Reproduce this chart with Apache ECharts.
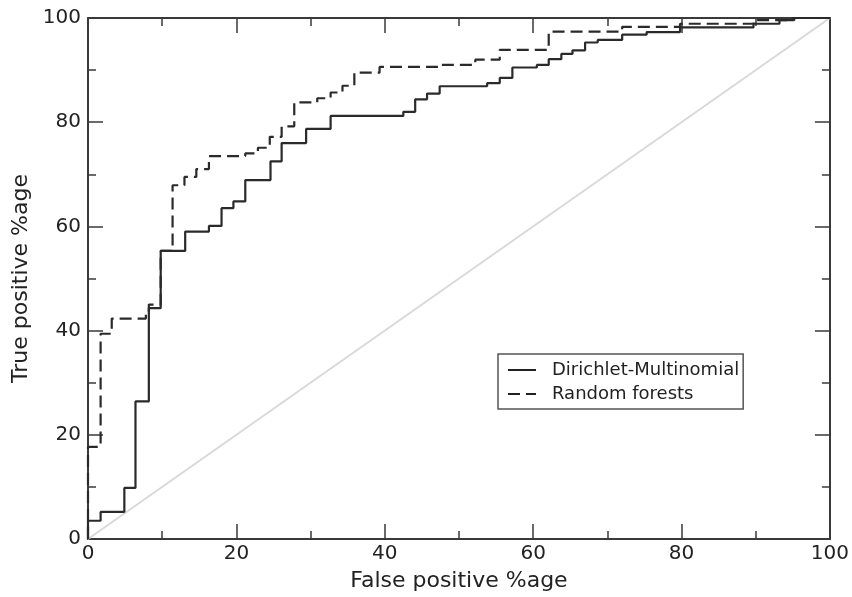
<!DOCTYPE html>
<html>
<head>
<meta charset="utf-8">
<script src="https://cdn.jsdelivr.net/npm/echarts@6/dist/echarts.min.js"></script>
<style>html,body{margin:0;padding:0;background:#fff}#c{width:852px;height:597px}</style>
</head>
<body>
<div id="c"></div>
<script>
const seriesNames = ['Dirichlet-Multinomial', 'Random forests'];
const xTitle = 'False positive %age';
const yTitle = 'True positive %age';

// Dirichlet-Multinomial ROC corners (false positive %, true positive %)
const fprDM = [0, 0, 1.7, 4.9, 6.4, 8.2, 9.8, 13.1, 16.3, 18.0, 19.6, 21.2, 24.6, 26.1, 29.4, 32.7, 42.5, 44.1, 45.7, 47.4, 53.8, 55.5, 57.2, 60.5, 62.1, 63.8, 65.3, 67.0, 68.7, 72.0, 75.3, 79.8, 89.7, 93.2, 95.2, 100];
const tprDM = [0, 3.5, 5.2, 9.8, 26.4, 44.3, 55.3, 59.0, 60.1, 63.5, 64.8, 68.9, 72.5, 76.0, 78.7, 81.2, 82.0, 84.4, 85.5, 86.9, 87.5, 88.5, 90.5, 91.0, 92.1, 93.1, 93.8, 95.3, 95.8, 96.8, 97.3, 98.2, 98.9, 99.6, 100, 100];

// Random forests ROC corners
const fprRF = [0, 0, 1.7, 3.2, 7.8, 8.2, 9.8, 11.4, 13.0, 14.6, 16.3, 21.2, 22.9, 24.5, 26.1, 27.8, 30.9, 32.7, 34.3, 35.9, 39.3, 47.3, 52.2, 55.5, 62.1, 72.0, 79.8, 89.7, 95.0, 100];
const tprRF = [0, 17.7, 39.4, 42.3, 43.2, 45.0, 55.3, 67.9, 69.5, 71.0, 73.5, 74.0, 75.1, 77.2, 79.2, 83.8, 84.6, 85.7, 87.0, 89.5, 90.6, 91.0, 92.0, 93.9, 97.4, 98.3, 98.9, 99.6, 100, 100];

// chance diagonal
const diagX = [0, 100];
const diagY = [0, 100];

const axisMin = 0, axisMax = 100, axisStep = 20;

const zip = (a, b) => a.map((v, i) => [v, b[i]]);
const FONT = 'DejaVu Sans';
const AX = '#3a3a3a';
const TXT = '#222';

function makeX(pos, showLabel) {
  return {
    type: 'value', position: pos, min: axisMin, max: axisMax, interval: axisStep,
    name: showLabel ? xTitle : '', nameLocation: 'middle', nameGap: 31,
    nameTextStyle: { fontFamily: FONT, fontSize: 22, color: TXT },
    axisLine: { show: true, onZero: false, lineStyle: { color: AX, width: 2 } },
    axisTick: { show: true, inside: true, length: 15, lineStyle: { color: AX, width: 1.5 } },
    minorTick: { show: true, splitNumber: 2, length: 8, lineStyle: { color: AX, width: 1.5 } },
    axisLabel: { show: showLabel, margin: 5, fontFamily: FONT, fontSize: 20, color: TXT },
    splitLine: { show: false }, minorSplitLine: { show: false }
  };
}
function makeY(pos, showLabel) {
  return {
    type: 'value', position: pos, min: axisMin, max: axisMax, interval: axisStep,
    name: showLabel ? yTitle : '', nameLocation: 'middle', nameGap: 52, nameRotate: 90,
    nameTextStyle: { fontFamily: FONT, fontSize: 22, color: TXT },
    axisLine: { show: true, onZero: false, lineStyle: { color: AX, width: 2 } },
    axisTick: { show: true, inside: true, length: 15, lineStyle: { color: AX, width: 1.5 } },
    minorTick: { show: true, splitNumber: 2, length: 8, lineStyle: { color: AX, width: 1.5 } },
    axisLabel: { show: showLabel, margin: 7, fontFamily: FONT, fontSize: 20, color: TXT },
    splitLine: { show: false }, minorSplitLine: { show: false }
  };
}

const chart = echarts.init(document.getElementById('c'), null, { renderer: 'canvas' });
chart.setOption({
  animation: false,
  backgroundColor: '#ffffff',
  grid: { left: 88, right: 19, top: 18, bottom: 55.5, containLabel: false },
  xAxis: [makeX('bottom', true), makeX('top', false)],
  yAxis: [makeY('left', true), makeY('right', false)],
  legend: {
    data: seriesNames,
    orient: 'vertical', left: 498, top: 354,
    padding: [7, 4, 6, 9],
    itemWidth: 28, itemHeight: 14, itemGap: 6,
    borderColor: '#555', borderWidth: 1.5, backgroundColor: '#fff',
    itemStyle: { color: 'rgba(0,0,0,0)', borderWidth: 0, opacity: 0 },
    lineStyle: { color: '#222', width: 2 },
    textStyle: { fontFamily: FONT, fontSize: 18, color: TXT, padding: [0, 0, 0, 11] },
    selectedMode: false
  },
  series: [
    {
      type: 'line', name: 'diag', data: zip(diagX, diagY), symbol: 'none', silent: true,
      lineStyle: { color: '#d9d9d9', width: 2 }, z: 1
    },
    {
      type: 'line', name: seriesNames[0], data: zip(fprDM, tprDM), step: 'end', symbol: 'none',
      lineStyle: { color: '#2a2a2a', width: 2.2, type: 'solid' }, itemStyle: { color: '#2a2a2a' }, z: 3
    },
    {
      type: 'line', name: seriesNames[1], data: zip(fprRF, tprRF), step: 'end', symbol: 'none',
      lineStyle: { color: '#2a2a2a', width: 2.2, type: [12, 6] }, itemStyle: { color: '#2a2a2a' }, z: 2
    }
  ]
});
</script>
</body>
</html>
